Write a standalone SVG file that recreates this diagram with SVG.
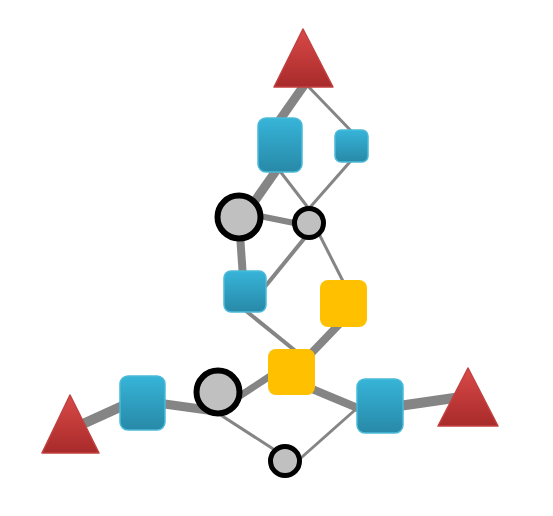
<svg xmlns="http://www.w3.org/2000/svg" width="553" height="516" viewBox="0 0 553 516">
<defs>
<linearGradient id="gb" x1="0" y1="0" x2="0" y2="1"><stop offset="0" stop-color="#36b4d8"/><stop offset="1" stop-color="#2889a8"/></linearGradient>
<linearGradient id="gr" x1="0" y1="0" x2="0" y2="1"><stop offset="0" stop-color="#d84a48"/><stop offset="1" stop-color="#a82a2a"/></linearGradient>
</defs>
<style>
.e{stroke:#858585;stroke-linecap:butt;fill:none}
.b{fill:url(#gb);stroke:#4bbad8;stroke-width:1.5}
.t{fill:url(#gr);stroke:#c24040;stroke-width:1.5;stroke-linejoin:round}
.y{fill:#ffc000}
.c{fill:#c0c0c0;stroke:#000}
</style>
<g id="connectors">
<line class="e" x1="312" y1="74" x2="272" y2="131" stroke-width="9"/>
<line class="e" x1="303" y1="81" x2="356" y2="136" stroke-width="3"/>
<line class="e" x1="285" y1="158" x2="240" y2="222" stroke-width="9"/>
<line class="e" x1="276" y1="166" x2="313" y2="214" stroke-width="3"/>
<line class="e" x1="356" y1="155" x2="305" y2="213" stroke-width="3"/>
<line class="e" x1="240" y1="212" x2="309" y2="226" stroke-width="6"/>
<line class="e" x1="239" y1="220" x2="244" y2="292" stroke-width="8"/>
<line class="e" x1="312" y1="229" x2="255" y2="299" stroke-width="4"/>
<line class="e" x1="314" y1="224" x2="350" y2="295" stroke-width="3"/>
<line class="e" x1="240" y1="306" x2="298" y2="353" stroke-width="4"/>
<line class="e" x1="348" y1="315" x2="300" y2="365" stroke-width="8"/>
<line class="e" x1="232" y1="401" x2="284" y2="367" stroke-width="7"/>
<line class="e" x1="300" y1="384" x2="372" y2="414" stroke-width="8"/>
<line class="e" x1="216" y1="412" x2="284" y2="456" stroke-width="3"/>
<line class="e" x1="293" y1="465" x2="364" y2="402" stroke-width="3"/>
<line class="e" x1="74" y1="428" x2="140" y2="398" stroke-width="10"/>
<line class="e" x1="150" y1="402" x2="215" y2="411" stroke-width="9"/>
<line class="e" x1="385" y1="408" x2="468" y2="396" stroke-width="10"/>
</g>
<g id="tri-top"><polygon class="t" points="274,87 333,87 303,29"/></g>
<g id="tri-left"><polygon class="t" points="42,453 99,453 70,395"/></g>
<g id="tri-right"><polygon class="t" points="438,426 498,426 468,368"/></g>
<g id="blue-top"><rect class="b" x="258" y="118" width="44" height="54" rx="8"/></g>
<g id="blue-small"><rect class="b" x="335" y="130" width="33" height="32" rx="6"/></g>
<g id="blue-mid"><rect class="b" x="224" y="271" width="42" height="41" rx="7"/></g>
<g id="blue-left"><rect class="b" x="120" y="376" width="45" height="54" rx="8"/></g>
<g id="blue-right"><rect class="b" x="357" y="379" width="46" height="54" rx="8"/></g>
<g id="yellow-top"><rect class="y" x="320" y="280" width="47" height="47" rx="8"/></g>
<g id="yellow-low"><rect class="y" x="268" y="349" width="47" height="46" rx="8"/></g>
<g id="circle-big-top"><circle class="c" cx="239" cy="217" r="21.5" stroke-width="6"/></g>
<g id="circle-small-top"><circle class="c" cx="309" cy="223" r="14.5" stroke-width="5"/></g>
<g id="circle-big-low"><circle class="c" cx="218" cy="392" r="21.5" stroke-width="6"/></g>
<g id="circle-small-low"><circle class="c" cx="285" cy="461" r="14.5" stroke-width="5"/></g>
</svg>
